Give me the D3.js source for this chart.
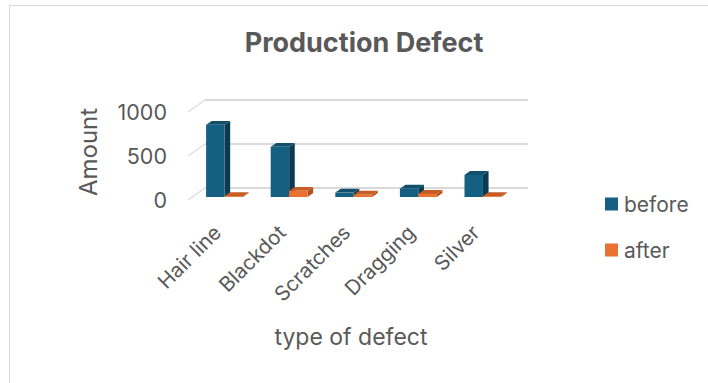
<!DOCTYPE html>
<html>
<head>
<meta charset="utf-8">
<script src="https://cdn.jsdelivr.net/npm/d3@7/dist/d3.min.js"></script>
<style>
  html, body { margin: 0; padding: 0; background: #fff; }
  svg { display: block; }
  text { font-family: Inter, "Noto Sans", sans-serif; fill: #595959; }
</style>
</head>
<body>
<svg id="chart" width="708" height="383"></svg>
<script>
// Defect counts per type, before and after the improvement
const categories = ["Hair line", "Blackdot", "Scratches", "Dragging", "Silver"];
const seriesNames = ["before", "after"];
const beforeValues = [820, 570, 50, 95, 250];
const afterValues = [10, 70, 25, 35, 10];
const yTicks = [0, 500, 1000];

const seriesColors = {
  before: { front: "#156082", side: "#0c3b51", top: "#114f6d" },
  after:  { front: "#e97132", side: "#b2531f", top: "#c65d25" }
};

const svg = d3.select("#chart");

// chart frame
svg.append("rect")
  .attr("x", 9.5).attr("y", 5.5)
  .attr("width", 720).attr("height", 400)
  .attr("fill", "#fff").attr("stroke", "#d9d9d9").attr("stroke-width", 1);

// 3D box: front plane and depth vector to the back wall
const frontLeft = 188, frontRight = 511;
const depth = { dx: 17, dy: -12 };
const barFront = 0.25, barBack = 0.58;   // bar depth as fraction of the box depth

const yFront = d3.scaleLinear().domain([0, 1000]).range([200, 112]);
const x = d3.scaleBand().domain(categories).range([frontLeft, frontRight]);
const xs = d3.scaleBand().domain(seriesNames).range([0, x.bandwidth()])
  .paddingInner(0).paddingOuter(0.75);

// project a point (screen x on front plane, value, depth fraction) to screen
const proj = (px, v, t) => [px + depth.dx * t, yFront(v) + depth.dy * t];

// gridlines: back wall horizontals and left wall diagonals
const grid = svg.append("g");
yTicks.forEach(v => {
  const [bx0, by] = proj(frontLeft, v, 1);
  const [bx1] = proj(frontRight, v, 1);
  grid.append("line").attr("x1", bx0).attr("x2", bx1).attr("y1", by).attr("y2", by)
    .attr("stroke", "#d9d9d9").attr("stroke-width", 2);
  const [fx, fy] = proj(frontLeft, v, 0);
  grid.append("line").attr("x1", fx).attr("y1", fy).attr("x2", bx0).attr("y2", by)
    .attr("stroke", "#dedede").attr("stroke-width", 1.5);
});

// y tick labels
svg.append("g").selectAll("text").data(yTicks).join("text")
  .attr("x", 167).attr("y", d => yFront(d)).attr("dy", "0.36em")
  .attr("text-anchor", "end").attr("font-size", 21.5)
  .text(d => d);

// bars
const rows = categories.map((c, i) => ({ cat: c, before: beforeValues[i], after: afterValues[i] }));
const bars = svg.append("g");
const poly = pts => pts.map(p => p.join(",")).join(" ");

rows.forEach(r => {
  seriesNames.forEach(s => {
    const v = r[s];
    const x0 = x(r.cat) + xs(s), x1 = x0 + xs.bandwidth();
    const col = seriesColors[s];
    const fbl = proj(x0, 0, barFront), fbr = proj(x1, 0, barFront);
    const ftl = proj(x0, v, barFront), ftr = proj(x1, v, barFront);
    const bbr = proj(x1, 0, barBack), btr = proj(x1, v, barBack), btl = proj(x0, v, barBack);
    bars.append("polygon").attr("points", poly([fbr, bbr, btr, ftr])).attr("fill", col.side);
    bars.append("polygon").attr("points", poly([ftl, ftr, btr, btl])).attr("fill", col.top);
    bars.append("polygon").attr("points", poly([fbl, fbr, ftr, ftl])).attr("fill", col.front);
  });
});

// category labels, rotated
svg.append("g").selectAll("text").data(categories).join("text")
  .attr("transform", d => {
    const [cx] = proj(x(d) + x.bandwidth() / 2, 0, barFront);
    return `translate(${cx - 2},234) rotate(-45)`;
  })
  .attr("text-anchor", "end").attr("font-size", 20.5)
  .text(d => d);

// title and axis titles
svg.append("text").attr("x", 364).attr("y", 52).attr("text-anchor", "middle")
  .attr("font-size", 27).attr("font-weight", 700).text("Production Defect");

svg.append("text").attr("transform", "translate(97,152) rotate(-90)")
  .attr("text-anchor", "middle").attr("font-size", 24).text("Amount");

svg.append("text").attr("x", 351).attr("y", 345).attr("text-anchor", "middle")
  .attr("font-size", 23).text("type of defect");

// legend
const legend = svg.append("g");
seriesNames.forEach((s, i) => {
  const y = 204 + i * 46;
  legend.append("rect").attr("x", 605).attr("y", y - 6.5).attr("width", 13).attr("height", 13)
    .attr("fill", seriesColors[s].front);
  legend.append("text").attr("x", 624).attr("y", y).attr("dy", "0.36em")
    .attr("font-size", 21).text(s);
});
</script>
</body>
</html>
